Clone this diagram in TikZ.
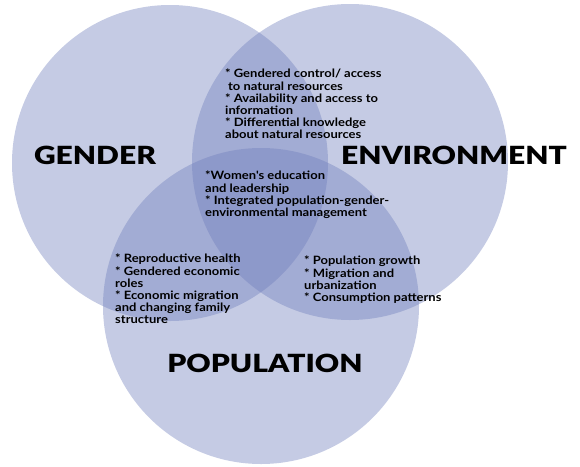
\documentclass[tikz,border=0pt]{standalone}
\usepackage{fontspec}
\setmainfont{Lato}
\newfontfamily\headfont[FakeStretch=1.2]{Lato Black}
\newfontfamily\itemfont[FakeStretch=1.13]{Lato Bold}
\definecolor{vennblue}{RGB}{110,125,187}
\begin{document}
\begin{tikzpicture}[x=1pt,y=-1pt,
  venn/.style={fill=vennblue,fill opacity=0.4},
  title/.style={font=\headfont\fontsize{25}{25}\selectfont,inner sep=0pt},
  items/.style={font=\itemfont\fontsize{11.5}{12.2}\selectfont,align=left,anchor=north west,inner sep=0pt}]
  \useasboundingbox (0,0) rectangle (580,466);
  \def\r{158}

  \foreach \cx/\cy in {170/163,350/162,261/306}
    \fill[venn] (\cx,\cy) circle (\r pt);

  \node[title] (gender) at (95,155) {GENDER};
  \node[title] (environment) at (454,155) {ENVIRONMENT};
  \node[title] (population) at (265,363) {POPULATION};

  \node[items] (genenv) at (225,69) {* Gendered control/ access\\\hspace{3pt}to natural resources\\* Availability and access to\\information\\* Differential knowledge\\about natural resources};
  \node[items] (all) at (205,171) {*Women's education\\and leadership\\* Integrated population-gender-\\environmental management};
  \node[items] (genpop) at (115,254) {* Reproductive health\\* Gendered economic\\roles\\* Economic migration\\and changing family\\structure};
  \node[items] (popenv) at (304,256) {* Population growth\\* Migration and\\urbanization\\* Consumption patterns};

\end{tikzpicture}
\end{document}
